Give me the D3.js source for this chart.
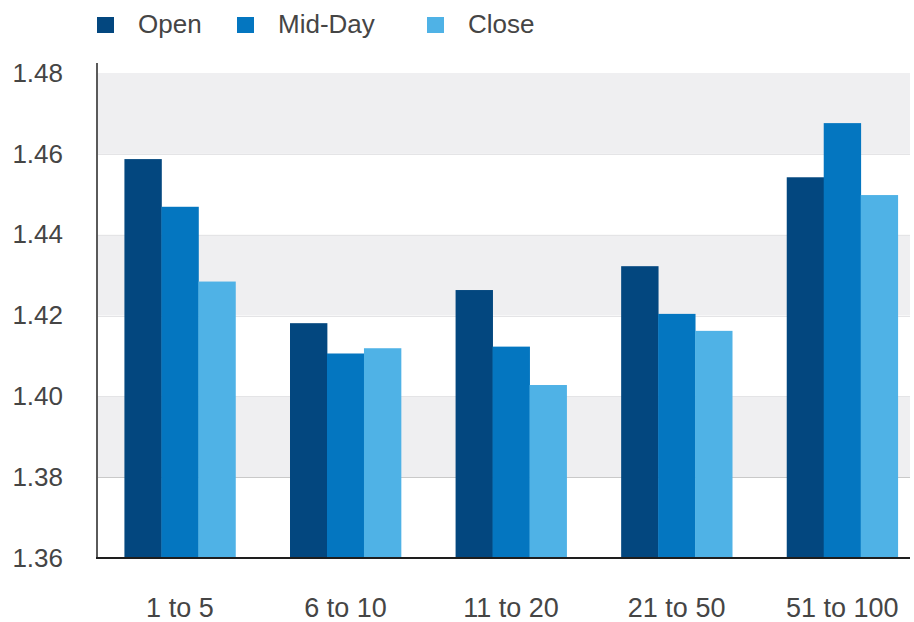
<!DOCTYPE html>
<html>
<head>
<meta charset="utf-8">
<script src="https://cdn.jsdelivr.net/npm/d3@7"></script>
<style>
  html, body { margin: 0; padding: 0; background: #fff; }
  svg { display: block; font-family: "Liberation Sans", Arial, sans-serif; }
</style>
</head>
<body>
<svg id="chart" width="914" height="622"></svg>
<script>
// Bucket categories along the x axis
const categories = ["1 to 5", "6 to 10", "11 to 20", "21 to 50", "51 to 100"];
// Series shown in each bucket
const seriesNames = ["Open", "Mid-Day", "Close"];
const openValues   = [1.4587, 1.4181, 1.4263, 1.4322, 1.4542];
const midDayValues = [1.4469, 1.4106, 1.4123, 1.4204, 1.4676];
const closeValues  = [1.4284, 1.4119, 1.4028, 1.4162, 1.4498];
// Y axis ticks
const yTicks = [1.36, 1.38, 1.40, 1.42, 1.44, 1.46, 1.48];
const seriesColors = ["#03477f", "#0476c0", "#4fb2e6"];

const seriesValues = [openValues, midDayValues, closeValues];
const rows = categories.map((c, i) => ({
  category: c,
  values: seriesNames.map((s, j) => ({ series: s, value: seriesValues[j][i] }))
}));

const svg = d3.select("#chart");

const plotLeft = 97, plotRight = 910, plotTop = 73, plotBottom = 558;

const y = d3.scaleLinear().domain([1.36, 1.48]).range([plotBottom, plotTop]);

const x0 = d3.scaleBand()
  .domain(categories)
  .range([plotLeft, plotRight])
  .paddingInner(0.33)
  .paddingOuter(0.12)
  .align(0.69);

const x1 = d3.scaleBand()
  .domain(seriesNames)
  .range([0, x0.bandwidth()])
  .padding(0);

const color = d3.scaleOrdinal().domain(seriesNames).range(seriesColors);

// Alternating shaded bands
const bandPairs = d3.pairs(yTicks).filter((d, i) => i % 2 === 1);
svg.append("g")
  .selectAll("rect")
  .data(bandPairs)
  .join("rect")
  .attr("x", plotLeft)
  .attr("width", plotRight - plotLeft)
  .attr("y", d => y(d[1]))
  .attr("height", d => y(d[0]) - y(d[1]))
  .attr("fill", "#efeff1");

// Horizontal grid lines
svg.append("g")
  .selectAll("line")
  .data(yTicks.slice(1, -1))
  .join("line")
  .attr("x1", plotLeft)
  .attr("x2", plotRight)
  .attr("y1", d => Math.round(y(d)) + 0.5)
  .attr("y2", d => Math.round(y(d)) + 0.5)
  .attr("stroke", d => d === 1.38 ? "#c9c9c9" : "#e4e4e6")
  .attr("stroke-width", 1);

// Bars
svg.append("g")
  .selectAll("g")
  .data(rows)
  .join("g")
  .attr("transform", d => `translate(${x0(d.category)},0)`)
  .selectAll("rect")
  .data(d => d.values)
  .join("rect")
  .attr("x", d => x1(d.series))
  .attr("width", x1.bandwidth() + 0.4)
  .attr("y", d => y(d.value))
  .attr("height", d => plotBottom - y(d.value))
  .attr("fill", d => color(d.series));

// Y axis
const yAxis = d3.axisLeft(y)
  .tickValues(yTicks)
  .tickFormat(d3.format(".2f"))
  .tickSize(0)
  .tickPadding(34);

const yAxisG = svg.append("g")
  .attr("transform", `translate(${plotLeft},0)`)
  .call(yAxis);
yAxisG.select(".domain").remove();
yAxisG.selectAll("text")
  .attr("font-family", "'Liberation Sans', Arial, sans-serif")
  .attr("font-size", 26)
  .attr("fill", "#454545");

svg.append("line")
  .attr("x1", plotLeft).attr("x2", plotLeft)
  .attr("y1", 63).attr("y2", plotBottom)
  .attr("stroke", "#5a5a5a")
  .attr("stroke-width", 2);

// X axis
const xAxis = d3.axisBottom(x0).tickSize(0).tickPadding(40);
const xAxisG = svg.append("g")
  .attr("transform", `translate(0,${plotBottom})`)
  .call(xAxis);
xAxisG.select(".domain").remove();
xAxisG.selectAll("text")
  .attr("font-family", "'Liberation Sans', Arial, sans-serif")
  .attr("font-size", 27)
  .attr("fill", "#454545");

svg.append("line")
  .attr("x1", plotLeft - 1).attr("x2", plotRight)
  .attr("y1", plotBottom).attr("y2", plotBottom)
  .attr("stroke", "#1e1e1e")
  .attr("stroke-width", 2);

// Legend
const legendX = [97, 237, 427];
const legend = svg.append("g")
  .selectAll("g")
  .data(seriesNames)
  .join("g")
  .attr("transform", (d, i) => `translate(${legendX[i]},17)`);
legend.append("rect")
  .attr("width", 17)
  .attr("height", 16)
  .attr("fill", d => color(d));
legend.append("text")
  .attr("x", 41)
  .attr("y", 16)
  .attr("font-size", 26)
  .attr("fill", "#454545")
  .text(d => d);
</script>
</body>
</html>
